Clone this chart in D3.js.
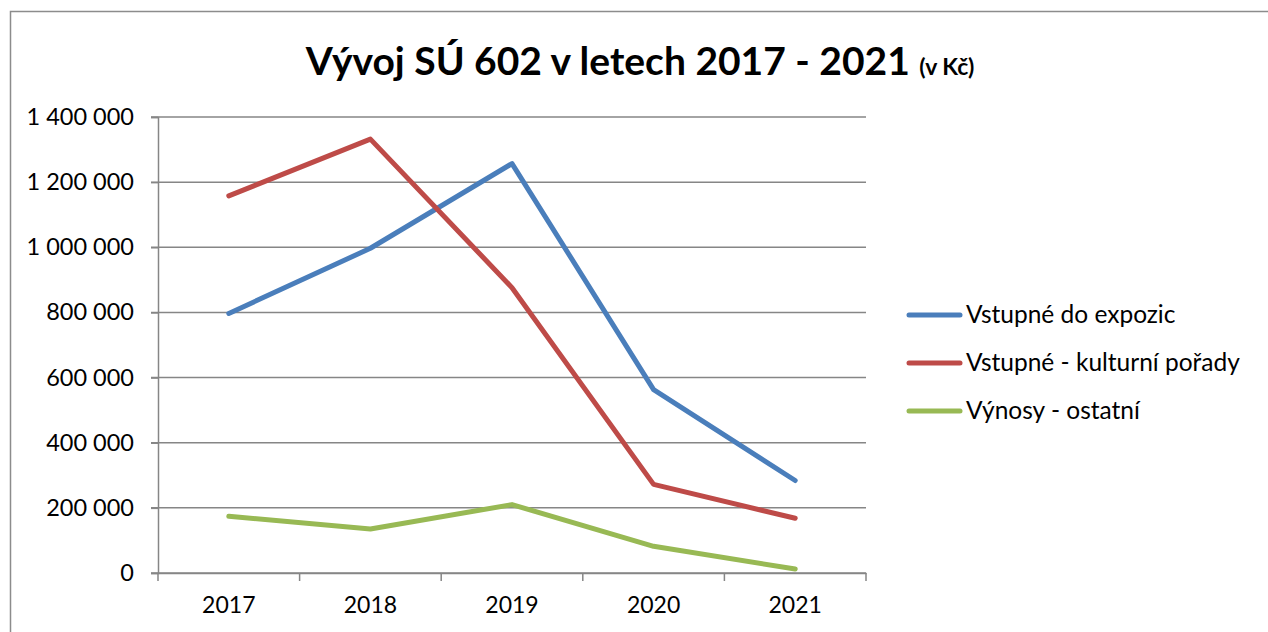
<!DOCTYPE html>
<html>
<head>
<meta charset="utf-8">
<script src="https://cdn.jsdelivr.net/npm/d3@7"></script>
<style>
  html, body { margin: 0; padding: 0; background: #fff; }
  svg { display: block; font-family: Lato, "Open Sans", sans-serif; }
</style>
</head>
<body>
<svg id="chart" width="1268" height="632"></svg>
<script>
const categories = ["2017", "2018", "2019", "2020", "2021"];
const seriesNames = ["Vstupné do expozic", "Vstupné - kulturní pořady", "Výnosy - ostatní"];
const seriesColors = ["#4a7ebb", "#be4b48", "#98b954"];
const vstupneExpozice = [797000, 997000, 1257000, 563000, 284000];
const vstupneKulturni = [1158000, 1332000, 876000, 272000, 168000];
const vynosyOstatni = [174000, 135000, 210000, 82000, 12000];
const yTicks = [0, 200000, 400000, 600000, 800000, 1000000, 1200000, 1400000];

const seriesValues = [vstupneExpozice, vstupneKulturni, vynosyOstatni];

const svg = d3.select("#chart");
const margin = { left: 158, right: 866, top: 117, bottom: 573 };

// chart frame
svg.append("rect")
  .attr("x", 10.5).attr("y", 11.5)
  .attr("width", 1300).attr("height", 700)
  .attr("fill", "none").attr("stroke", "#8c8c8c").attr("stroke-width", 1.5);

const x = d3.scaleBand().domain(categories).range([margin.left, margin.right]);
const y = d3.scaleLinear().domain([0, 1400000]).range([margin.bottom, margin.top]);

const fmt = v => d3.format(",")(v).replace(/,/g, " ");

// gridlines
svg.append("g")
  .selectAll("line")
  .data(yTicks)
  .join("line")
  .attr("x1", margin.left - 7).attr("x2", margin.right)
  .attr("y1", d => y(d)).attr("y2", d => y(d))
  .attr("stroke", "#868686").attr("stroke-width", 1.5);

// y axis
const yAxis = svg.append("g")
  .attr("transform", `translate(${margin.left},0)`)
  .call(d3.axisLeft(y).tickValues(yTicks).tickFormat(fmt).tickSize(7).tickPadding(17));
yAxis.select(".domain").attr("stroke", "#868686").attr("stroke-width", 1.5);
yAxis.selectAll(".tick line").attr("stroke", "#868686").attr("stroke-width", 1.5);
yAxis.selectAll("text").attr("font-size", 23.5).attr("fill", "#000").attr("font-family", "Lato, sans-serif");

// x axis
const xAxis = svg.append("g")
  .attr("transform", `translate(0,${margin.bottom})`)
  .call(d3.axisBottom(x).tickSize(0).tickPadding(24));
xAxis.select(".domain").attr("stroke", "#868686").attr("stroke-width", 1.5);
xAxis.selectAll("text").attr("font-size", 23).attr("fill", "#000").attr("font-family", "Lato, sans-serif");
// boundary ticks
const bounds = categories.map(c => x(c)).concat([x(categories[categories.length - 1]) + x.bandwidth()]);
svg.append("g").selectAll("line").data(bounds).join("line")
  .attr("x1", d => d).attr("x2", d => d)
  .attr("y1", margin.bottom).attr("y2", margin.bottom + 8)
  .attr("stroke", "#868686").attr("stroke-width", 1.5);

// lines
const line = d3.line()
  .x((d, i) => x(categories[i]) + x.bandwidth() / 2)
  .y(d => y(d));

svg.append("g").selectAll("path")
  .data(seriesValues)
  .join("path")
  .attr("d", d => line(d))
  .attr("fill", "none")
  .attr("stroke", (d, i) => seriesColors[i])
  .attr("stroke-width", 5)
  .attr("stroke-linecap", "round")
  .attr("stroke-linejoin", "round");

// title
const title = svg.append("text")
  .attr("x", 640).attr("y", 75)
  .attr("text-anchor", "middle")
  .attr("font-weight", "bold")
  .attr("fill", "#000");
title.append("tspan").attr("font-size", 39).text("Vývoj SÚ 602 v letech 2017 - 2021 ");
title.append("tspan").attr("font-size", 23).text("(v Kč)");

// legend
const legend = svg.append("g");
const legendY = [315, 363, 411];
seriesNames.forEach((name, i) => {
  legend.append("line")
    .attr("x1", 909).attr("x2", 960)
    .attr("y1", legendY[i]).attr("y2", legendY[i])
    .attr("stroke", seriesColors[i]).attr("stroke-width", 5)
    .attr("stroke-linecap", "round");
  legend.append("text")
    .attr("x", 966).attr("y", legendY[i] + 8)
    .attr("font-size", 24.5).attr("fill", "#000")
    .text(name);
});
</script>
</body>
</html>
